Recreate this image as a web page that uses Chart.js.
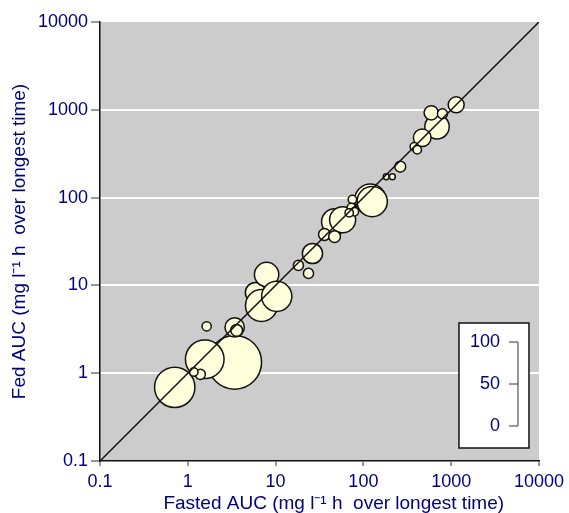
<!DOCTYPE html>
<html>
<head>
<meta charset="utf-8">
<script src="https://cdn.jsdelivr.net/npm/chart.js@4/dist/chart.umd.min.js"></script>
<style>
  html, body { margin: 0; padding: 0; background: #fff; }
</style>
</head>
<body>
<canvas id="myChart" width="569" height="513"></canvas>
<script>
// AUC values (mg l-1 h)
const fastedAUC = [3.42, 0.71, 1.56, 5.9, 7.9, 6.9, 10.3, 120, 126, 47, 58, 26.3, 690,
  3.42, 468, 1140, 593, 3.6, 36, 47, 263, 795, 18.2, 23.7, 1.39, 1.64, 1.17,
  75, 73, 79, 69, 380, 411, 182, 214];
const fedAUC = [1.33, 0.69, 1.44, 8.3, 13.3, 5.9, 7.5, 95, 90, 53, 56, 23.1, 641,
  3.33, 480, 1140, 925, 3.08, 38, 36, 225, 901, 16.9, 13.7, 0.97, 3.42, 1.03,
  95, 77, 69, 67, 380, 351, 173, 173];
// bubble size in legend units (0-100)
const bubbleSize = [64, 48, 46, 24, 29, 38, 36, 37, 36, 31, 31, 24, 29,
  23, 21, 19, 17, 14, 14, 14, 13, 12, 12, 12, 12, 11, 10,
  10, 10, 10, 10, 10, 10, 7, 7];

const tickValues = [0.1, 1, 10, 100, 1000, 10000];
const tickLabels = ['0.1', '1', '10', '100', '1000', '10000'];
const sizeLegendValues = [0, 50, 100];
const sizeLegendLabels = ['0', '50', '100'];

const pxPerUnit = 0.42; // bubble radius per size unit
const navy = '#000080';
const fontFamily = '"Liberation Sans", Arial, sans-serif';

const plotBackground = {
  id: 'plotBackground',
  beforeDraw(chart) {
    const { ctx, chartArea: a } = chart;
    ctx.save();
    ctx.fillStyle = '#cccccc';
    ctx.fillRect(a.left, a.top, a.right - a.left, a.bottom - a.top);
    ctx.restore();
  }
};

const sizeLegend = {
  id: 'sizeLegend',
  afterDraw(chart) {
    const { ctx, chartArea: a } = chart;
    const boxL = a.right - 80, boxT = a.bottom - 138;
    ctx.save();
    ctx.fillStyle = '#ffffff';
    ctx.fillRect(boxL, boxT, 70, 125);
    ctx.strokeStyle = '#111';
    ctx.lineWidth = 1.5;
    ctx.strokeRect(boxL, boxT, 70, 125);

    const barX = boxL + 59, y0 = boxT + 103;
    const span = 100 * 2 * pxPerUnit;
    ctx.lineWidth = 1;
    ctx.strokeStyle = '#333';
    ctx.beginPath();
    ctx.moveTo(barX, y0);
    ctx.lineTo(barX, y0 - span);
    ctx.stroke();
    ctx.font = '18px ' + fontFamily;
    ctx.fillStyle = navy;
    ctx.textAlign = 'right';
    ctx.textBaseline = 'middle';
    sizeLegendValues.forEach((v, i) => {
      const y = y0 - v * 2 * pxPerUnit;
      ctx.beginPath();
      ctx.moveTo(barX - 9, y);
      ctx.lineTo(barX, y);
      ctx.stroke();
      ctx.fillText(sizeLegendLabels[i], barX - 18, y);
    });
    ctx.restore();
  }
};

const logAxis = (title, isX) => ({
  type: 'logarithmic',
  min: 0.1,
  max: 10000,
  afterBuildTicks: (scale) => { scale.ticks = tickValues.map(v => ({ value: v })); },
  afterFit: (scale) => {
    if (isX) scale.height = 52; else scale.width = 100;
  },
  ticks: {
    color: navy,
    font: { family: fontFamily, size: 18 },
    padding: isX ? 5 : 3,
    maxRotation: 0,
    autoSkip: false,
    callback: (v) => tickLabels[tickValues.indexOf(v)]
  },
  grid: {
    drawOnChartArea: !isX,
    color: (c) => (c.tick && (c.tick.value === 0.1 || c.tick.value === 10000)) ? 'rgba(0,0,0,0)' : '#ffffff',
    lineWidth: 2,
    tickColor: '#333',
    tickLength: isX ? 5 : 9,
    tickWidth: 1
  },
  border: { color: '#111', width: 1.5 },
  title: {
    display: true,
    text: title,
    color: navy,
    font: { family: fontFamily, size: 19, lineHeight: 1 },
    padding: isX ? { top: 0, bottom: 0 } : { top: 10, bottom: 0 }
  }
});

new Chart(document.getElementById('myChart'), {
  data: {
    datasets: [{
      type: 'line',
      data: [{ x: 0.1, y: 0.1 }, { x: 10000, y: 10000 }],
      borderColor: '#111',
      borderWidth: 1.5,
      pointRadius: 0
    }, {
      type: 'bubble',
      data: fastedAUC.map((x, i) => ({ x: x, y: fedAUC[i], r: bubbleSize[i] * pxPerUnit })),
      backgroundColor: '#ffffdc',
      borderColor: '#111',
      borderWidth: 1.5,
      hoverRadius: 0
    }]
  },
  options: {
    responsive: false,
    animation: false,
    layout: { autoPadding: false, padding: { top: 22, right: 27, left: 0, bottom: 0 } },
    plugins: { legend: { display: false }, tooltip: { enabled: false } },
    scales: {
      x: logAxis('\u2003\u2002Fasted AUC (mg l\u207B\u00B9 h  over longest time)', true),
      y: logAxis('Fed AUC (mg l\u207B\u00B9 h  over longest time)', false)
    }
  },
  plugins: [plotBackground, sizeLegend]
});
</script>
</body>
</html>
